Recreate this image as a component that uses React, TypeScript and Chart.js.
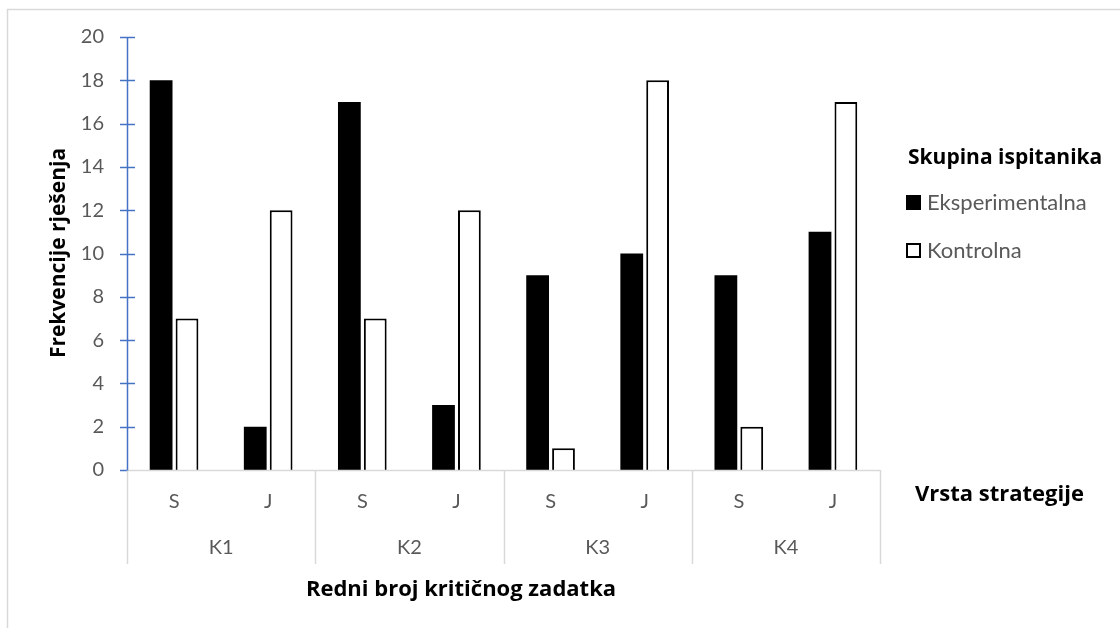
import React, { useEffect, useRef } from "react";
import { Chart, registerables } from "chart.js";

Chart.register(...registerables);

const groups = ["K1", "K2", "K3", "K4"];
const categories = ["S", "J", "S", "J", "S", "J", "S", "J"];
const eksperimentalna = [18, 2, 17, 3, 9, 10, 9, 11];
const kontrolna = [7, 12, 7, 12, 1, 18, 2, 17];
const seriesNames = ["Eksperimentalna", "Kontrolna"];
const yMin = 0;
const yMax = 20;
const yStep = 2;
const yTitle = "Frekvencije rješenja";
const xTitle = "Redni broj kritičnog zadatka";
const legendTitle = "Skupina ispitanika";
const innerAxisTitle = "Vrsta strategije";

const FONT = "Lato, 'Open Sans', sans-serif";
const BOLD_FONT = "'Open Sans', Lato, sans-serif";
const GREY_TEXT = "#595959";
const GREY_LINE = "#d9d9d9";
const BLUE = "#4472C4";

const decor = {
  id: "decor",
  afterDatasetsDraw(chart: any) {
    const { ctx, chartArea, scales } = chart;
    const { left, right, bottom } = chartArea;
    const x = scales.x;
    const y = scales.y;
    ctx.save();

    // outer frame
    ctx.strokeStyle = GREY_LINE;
    ctx.lineWidth = 1.5;
    ctx.beginPath();
    ctx.moveTo(7.5, 628);
    ctx.lineTo(7.5, 9.5);
    ctx.lineTo(1120, 9.5);
    ctx.stroke();

    // y ticks (cross)
    ctx.strokeStyle = BLUE;
    ctx.lineWidth = 1.5;
    y.ticks.forEach((t: any) => {
      const py = Math.round(y.getPixelForValue(t.value)) + 0.5;
      ctx.beginPath();
      ctx.moveTo(left - 7, py);
      ctx.lineTo(t.value === yMin ? left : left + 8, py);
      ctx.stroke();
    });

    // category axis structure
    const n = categories.length;
    const catW = (right - left) / n;
    const per = n / groups.length;
    const lineBottom = bottom + 94;
    ctx.strokeStyle = GREY_LINE;
    ctx.lineWidth = 1.5;
    ctx.beginPath();
    ctx.moveTo(left, bottom + 0.5);
    ctx.lineTo(right, bottom + 0.5);
    ctx.stroke();
    for (let g = 0; g <= groups.length; g++) {
      const px = Math.round(x.getPixelForValue(g * per) - catW / 2) + 0.5;
      ctx.beginPath();
      ctx.moveTo(px, bottom);
      ctx.lineTo(px, lineBottom);
      ctx.stroke();
    }

    // y axis line
    ctx.strokeStyle = BLUE;
    ctx.lineWidth = 1.5;
    ctx.beginPath();
    ctx.moveTo(left + 0.5, y.getPixelForValue(yMax));
    ctx.lineTo(left + 0.5, bottom + 0.5);
    ctx.stroke();

    // category labels
    ctx.fillStyle = GREY_TEXT;
    ctx.font = `20px ${FONT}`;
    ctx.textAlign = "center";
    ctx.textBaseline = "middle";
    categories.forEach((c, i) => {
      ctx.fillText(c, x.getPixelForValue(i), bottom + 32);
    });
    groups.forEach((g, gi) => {
      const cx = (x.getPixelForValue(gi * per) + x.getPixelForValue(gi * per + per - 1)) / 2;
      ctx.fillText(g, cx, bottom + 78);
    });

    // titles
    ctx.fillStyle = "#000";
    ctx.font = `bold 22px ${BOLD_FONT}`;
    ctx.fillText(xTitle, 461, 590);
    ctx.textAlign = "left";
    ctx.fillText(innerAxisTitle, 915, 495);
    ctx.font = `bold 21px ${BOLD_FONT}`;
    ctx.fillText(legendTitle, 908, 158);

    ctx.save();
    ctx.translate(59, 253);
    ctx.rotate(-Math.PI / 2);
    ctx.textAlign = "center";
    ctx.fillText(yTitle, 0, 0);
    ctx.restore();

    // legend
    const items = [
      { name: seriesNames[0], fill: "#000", stroke: "#000", cy: 203 },
      { name: seriesNames[1], fill: "#fff", stroke: "#000", cy: 251 },
    ];
    items.forEach((it) => {
      ctx.fillStyle = it.fill;
      ctx.fillRect(907, it.cy - 7, 13, 13);
      ctx.strokeStyle = it.stroke;
      ctx.lineWidth = 2;
      ctx.strokeRect(907, it.cy - 7, 13, 13);
      ctx.fillStyle = GREY_TEXT;
      ctx.font = `22px ${FONT}`;
      ctx.textAlign = "left";
      ctx.fillText(it.name, 927, it.cy);
    });

    ctx.restore();
  },
};

export default function App() {
  const ref = useRef<HTMLCanvasElement | null>(null);
  useEffect(() => {
    if (!ref.current) return;
    const chart = new Chart(ref.current, {
      type: "bar",
      data: {
        labels: categories,
        datasets: [
          {
            label: seriesNames[0],
            data: eksperimentalna,
            backgroundColor: "#000",
            borderColor: "#000",
            borderWidth: 0,
          },
          {
            label: seriesNames[1],
            data: kontrolna,
            backgroundColor: "#fff",
            borderColor: "#000",
            borderWidth: 2,
          },
        ],
      },
      options: {
        responsive: true,
        maintainAspectRatio: false,
        animation: false,
        datasets: {
          bar: { categoryPercentage: 0.55, barPercentage: 0.88 },
        },
        layout: { padding: { left: 0, right: 240, top: 37, bottom: 158 } },
        plugins: { legend: { display: false }, tooltip: { enabled: false } },
        scales: {
          x: { display: false },
          y: {
            min: yMin,
            max: yMax,
            ticks: {
              stepSize: yStep,
              color: GREY_TEXT,
              font: { family: FONT, size: 20 },
              padding: 23,
            },
            grid: { display: false, drawTicks: false },
            border: { display: false },
            afterFit: (scale: any) => {
              scale.width = 127;
            },
          },
        },
      },
      plugins: [decor],
    });
    return () => chart.destroy();
  }, []);
  return (
    <div style={{ position: "fixed", left: 0, top: 0, width: 1120, height: 628, background: "#fff" }}>
      <canvas ref={ref} />
    </div>
  );
}
